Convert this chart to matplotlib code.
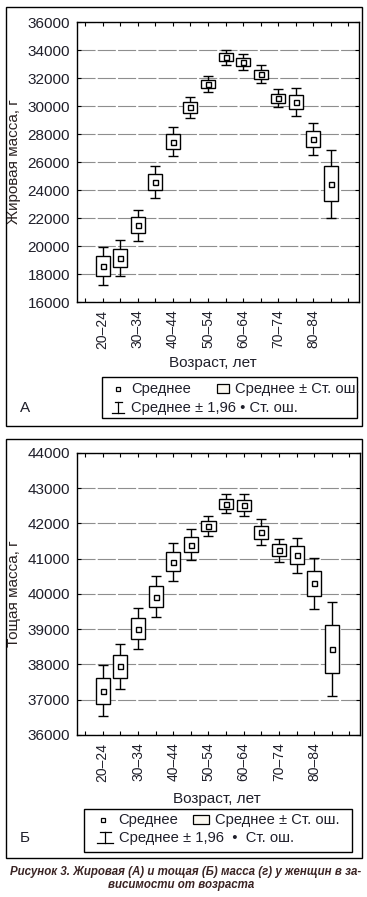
import numpy as np
import matplotlib
matplotlib.use("Agg")
import matplotlib.pyplot as plt
from matplotlib.patches import Rectangle
from matplotlib.lines import Line2D

plt.rcParams['font.family'] = ['Liberation Sans', 'DejaVu Sans']
plt.rcParams['lines.scale_dashes'] = False

# age groups (only every other one is labelled on the axis)
ages = ['20–24', '25–29', '30–34', '35–39', '40–44', '45–49', '50–54',
        '55–59', '60–64', '65–69', '70–74', '75–79', '80–84', '85+']

# A: fat mass, g  (mean and standard error)
fat_mean = [18580, 19150, 21490, 24575, 27460, 29910, 31565,
            33490, 33140, 32275, 30560, 30270, 27635, 24450]
fat_se = [690, 655, 563, 580, 530, 390, 285,
          272, 290, 330, 330, 500, 590, 1240]

# Б: lean mass, g
lean_mean = [37260, 37945, 39020, 39925, 40918, 41403, 41930,
             42560, 42513, 41753, 41238, 41100, 40300, 38443]
lean_se = [370, 325, 298, 296, 274, 218, 150,
           140, 160, 188, 170, 252, 365, 675]

W, H = 367, 897
fig = plt.figure(figsize=(W / 100, H / 100), dpi=100)

TXT = '#1f1f2a'


def rect(l, t, r, b):
    return [l / W, 1 - b / H, (r - l) / W, (b - t) / H]


def panel(ax, mean, se, ylim, ystep):
    mean = np.array(mean, dtype=float)
    se = np.array(se, dtype=float)
    x = np.arange(len(mean))
    ax.errorbar(x, mean, yerr=1.96 * se, fmt='none', ecolor='black',
                elinewidth=1.0, capsize=3.6, capthick=1.0, zorder=3)
    ax.bar(x, 2 * se, bottom=mean - se, width=0.8, color='white',
           edgecolor='black', linewidth=1.0, zorder=4)
    ax.plot(x, mean, 's', ms=3.6, mfc='white', mec='black', mew=1.0, zorder=5)
    ax.set_xlim(-1.46, 14.6)
    ax.set_ylim(*ylim)
    ax.set_yticks(np.arange(ylim[0], ylim[1] + 1, ystep))
    ax.set_xticks(np.arange(-1, 15))
    labels = [''] + [a if i % 2 == 0 else '' for i, a in enumerate(ages)] + ['']
    ax.set_xticklabels(labels, rotation=90, fontsize=10, color=TXT)
    ax.tick_params(axis='both', direction='in', length=3, width=0.8,
                   top=True, right=True, colors='black')
    ax.tick_params(axis='x', pad=5.5, labelcolor=TXT)
    ax.tick_params(axis='y', labelsize=11, pad=5, labelcolor=TXT)
    ax.grid(axis='y', color='#8e8e8e', linewidth=0.8, linestyle=(0, (13, 1.6)), zorder=1)
    for s in ax.spines.values():
        s.set_linewidth(1.0)


axA = fig.add_axes(rect(77, 22, 359, 302))
panel(axA, fat_mean, fat_se, (16000, 36000), 2000)
axB = fig.add_axes(rect(77, 453, 360, 735))
panel(axB, lean_mean, lean_se, (36000, 44000), 1000)

# overlay in pixel coordinates for frames, labels and legends
ov = fig.add_axes([0, 0, 1, 1], zorder=10)
ov.set_xlim(0, W)
ov.set_ylim(H, 0)
ov.axis('off')
ov.patch.set_visible(False)

for t, b in [(7, 426), (439, 858)]:
    ov.add_patch(Rectangle((5.5, t), 356.5, b - t, fill=False, lw=1.0, ec='black'))

ov.text(14, 162, 'Жировая масса, г', rotation=90, ha='center', va='center',
        fontsize=11, color='#2a2222')
ov.text(14, 594, 'Тощая масса, г', rotation=90, ha='center', va='center',
        fontsize=11, color='#2a2222')
ov.text(213, 363, 'Возраст, лет', ha='center', va='center', fontsize=11, color=TXT)
ov.text(217, 799, 'Возраст, лет', ha='center', va='center', fontsize=11, color=TXT)
ov.text(20, 408, 'А', ha='left', va='center', fontsize=11, color=TXT)
ov.text(20, 838, 'Б', ha='left', va='center', fontsize=11, color=TXT)

LFS = 10.6


def legend(box, r1, r2, mk, bx, wh, t1, t2, t3, s3):
    l, t, r, b = box
    ov.add_patch(Rectangle((l, t), r - l, b - t, fill=False, lw=1.0, ec='black'))
    ov.add_patch(Rectangle((mk - 2, r1 - 2), 4, 4, fill=False, lw=0.9, ec='black'))
    ov.text(t1, r1, 'Среднее', ha='left', va='center', fontsize=LFS, color=TXT)
    ov.add_patch(Rectangle((bx[0], r1 - 4.5), bx[1] - bx[0], 9, fc='#fbf8f0',
                           lw=0.9, ec='black'))
    ov.text(t2, r1, 'Среднее ± Ст. ош.', ha='left', va='center', fontsize=LFS, color=TXT)
    x0, x1 = wh
    xc = (x0 + x1) / 2
    ov.add_line(Line2D([x0 + 2.5, x1 - 2.5], [r2 - 5.5, r2 - 5.5], lw=0.9, color='black'))
    ov.add_line(Line2D([xc, xc], [r2 - 5.5, r2 + 5.5], lw=0.9, color='black'))
    ov.add_line(Line2D([x0, x1], [r2 + 5.5, r2 + 5.5], lw=0.9, color='black'))
    ov.text(t3, r2, s3, ha='left', va='center', fontsize=LFS, color=TXT)


legend((102, 377, 357, 418), 389, 408, 118, (217, 229), (112, 124),
       131, 235, 131, 'Среднее ± 1,96 • Ст. ош.')
legend((84, 809, 352, 852), 820, 838, 103, (193, 209), (97, 113),
       118, 215, 119, 'Среднее ± 1,96  •  Ст. ош.')

cap = '#3a2424'
ov.text(186, 872, 'Рисунок 3. Жировая (А) и тощая (Б) масса (г) у женщин в за-',
        ha='center', va='center', fontsize=8.3, fontweight='bold',
        fontstyle='italic', color=cap)
ov.text(181, 885, 'висимости от возраста', ha='center', va='center', fontsize=8.3,
        fontweight='bold', fontstyle='italic', color=cap)

fig.savefig('out.png', dpi=100, facecolor='white')
